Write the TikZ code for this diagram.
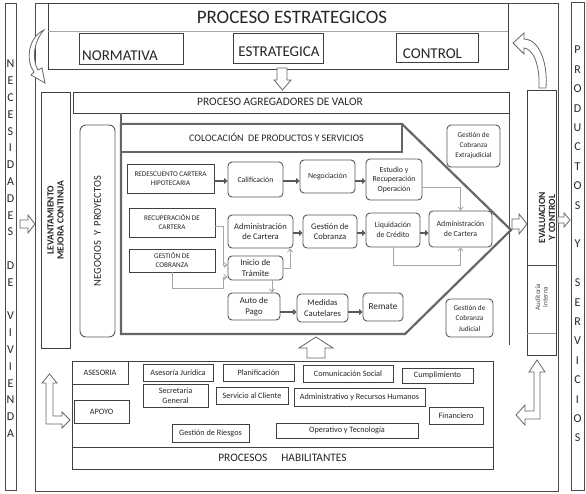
\documentclass[tikz,border=0pt]{standalone}
\usepackage{fontspec}
\setmainfont{Carlito}
\usetikzlibrary{arrows.meta}
\begin{document}
\begin{tikzpicture}[x=1pt,y=-1pt,
  frame/.style={draw=black!70, line width=0.9pt},
  sbox/.style={draw=black!75, line width=0.9pt, fill=white, inner sep=1pt, align=center, text=black!85},
  rbox/.style={sbox, rounded corners=4pt, draw=black!65},
  hbox/.style={sbox, font=\fontsize{8.2}{9}\selectfont},
  barrow/.style={draw=black!60, line width=0.8pt, fill=white, line join=miter},
  thickconn/.style={draw=black!65, line width=2.4pt, -{Triangle[length=3.5pt,width=6pt]}},
  lconn/.style={draw=black!35, line width=0.8pt, -{Straight Barb[length=3pt,width=5pt]}},
  lbl/.style={inner sep=0pt, text=black!85},
  fa/.style={font=\fontsize{7.8}{9.5}\selectfont},
  fb/.style={font=\fontsize{8.6}{10}\selectfont},
  fc/.style={font=\fontsize{7.2}{9}\selectfont},
]
\useasboundingbox (0,0) rectangle (586,493);
\fill[white] (0,0) rectangle (586,493);

% side bars
\draw[frame] (5,3) rectangle (16,490);
\draw[frame] (571,2) rectangle (584,490);
\node[lbl, align=center, font=\fontsize{12}{16.8}\selectfont] (nec) at (10.5,248.8)
  {N\\E\\C\\E\\S\\I\\D\\A\\D\\E\\S\\~\\D\\E\\~\\V\\I\\V\\I\\E\\N\\D\\A};
\node[lbl, align=center, font=\fontsize{12}{19.4}\selectfont] (prod) at (577.5,244)
  {P\\R\\O\\D\\U\\C\\T\\O\\S\\~\\Y\\~\\S\\E\\R\\V\\I\\C\\I\\O\\S};

% outer frame
\draw[frame] (35,3) rectangle (558,491);

% estrategicos
\node[sbox, minimum width=460pt, minimum height=66pt] (estr) at (278,36) {};
\draw[draw=black!35, line width=0.8pt] (48,31) -- (508,31);
\node[lbl, font=\fontsize{19}{20}\selectfont] (estrT) at (292,17) {PROCESO ESTRATEGICOS};
\node[sbox, minimum width=104pt, minimum height=31pt] (norm) at (131,48.5) {};
\node[lbl, font=\fontsize{15}{16}\selectfont, anchor=west] (normT) at (82,56) {NORMATIVA};
\node[sbox, minimum width=90pt, minimum height=30pt] (estg) at (278,48) {};
\node[lbl, font=\fontsize{15}{16}\selectfont] (estgT) at (279,52) {ESTRATEGICA};
\node[sbox, minimum width=82pt, minimum height=29pt] (ctrl) at (437,47.5) {};
\node[lbl, font=\fontsize{15}{16}\selectfont] (ctrlT) at (432.5,54) {CONTROL};

% curved arrows
\draw[barrow] (44,30) .. controls (27,38) and (26,62) .. (34,72) -- (31,75) -- (45,83) -- (42,68) -- (38,70) .. controls (32,60) and (33,42) .. (44,30) -- cycle;
\draw[barrow] (539,88) -- (546,88) .. controls (548,60) and (538,39) .. (524,39) -- (524,33) -- (513,43) -- (524,54) -- (524,48) .. controls (533,49) and (540,64) .. (539,88) -- cycle;

% down arrow
\draw[barrow] (277,68) -- (287,68) -- (287,80) -- (291,80) -- (282.5,90) -- (274,80) -- (277,80) -- cycle;

% agregadores
\node[sbox, minimum width=436pt, minimum height=21pt] (agr) at (291,102.5) {};
\node[lbl, font=\fontsize{11.4}{12}\selectfont] (agrT) at (280,102) {PROCESO AGREGADORES DE VALOR};
\node[sbox, rotate=90, minimum width=256pt, minimum height=29pt, font=\bfseries\fontsize{9.5}{10}\selectfont] (lev) at (55.5,220) {LEVANTAMIENTO\\MEJORA CONTINUA};
\node[rbox, rotate=90, rounded corners=6pt, minimum width=212pt, minimum height=35pt, font=\fontsize{10.5}{12}\selectfont] (negp) at (97.5,231) {NEGOCIOS\ \ Y\ \ PROYECTOS};

\draw[black!60, line width=1.5pt] (121,113) -- (121,124);
\draw[frame] (509.5,113) -- (509.5,345);

% pentagon
\draw[black!60, line width=2.2pt, line join=miter] (121,124) -- (402,124) -- (511,230) -- (405,334) -- (121,334) -- cycle;
\node[sbox, draw=black!60, line width=1.5pt, minimum width=281pt, minimum height=28pt] (col) at (261.5,138) {};
\node[lbl, font=\fontsize{10}{11}\selectfont] (colT) at (276.5,137) {COLOCACIÓN\ \ DE PRODUCTOS Y SERVICIOS};

% evaluacion
\node[sbox, minimum width=29pt, minimum height=265pt] (eval) at (541.5,222.5) {};
\draw[black!70, line width=0.7pt] (527,265) -- (556,265);
\draw[black!40, line width=0.6pt] (527,333) -- (556,333);
\node[lbl, rotate=90, align=center, font=\bfseries\fontsize{9.5}{10}\selectfont] (evalT) at (547,217.5) {EVALUACION\\Y CONTROL};
\node[lbl, rotate=90, align=center, font=\fontsize{7}{7.5}\selectfont, text=black!70] (audT) at (541.5,297) {Auditoria\\Interna};

% inner boxes
\node[sbox, fc, minimum width=87pt, minimum height=29pt] (redes) at (170.5,178.5) {REDESCUENTO CARTERA\\HIPOTECARIA};
\node[rbox, fa, minimum width=55pt, minimum height=35pt] (cal) at (255.5,179.5) {Calificación};
\node[rbox, fa, minimum width=55pt, minimum height=33pt] (nego) at (327.5,176.5) {Negociación};
\node[rbox, fa, minimum width=56pt, minimum height=41pt] (est) at (394,179.5) {Estudio y\\Recuperación\\Operación};
\node[sbox, fc, minimum width=86pt, minimum height=29pt] (recup) at (172,222.5) {RECUPERACIÓN DE\\CARTERA};
\node[rbox, fb, minimum width=65pt, minimum height=33pt] (adma) at (260.5,231.5) {Administración\\de Cartera};
\node[rbox, fb, minimum width=54pt, minimum height=33pt] (gest) at (330,231.5) {Gestión de\\Cobranza};
\node[rbox, fa, minimum width=54pt, minimum height=34pt] (liq) at (393,230) {Liquidación\\de Crédito};
\node[rbox, fa, minimum width=63pt, minimum height=36pt] (admb) at (460.5,229) {Administración\\de Cartera};
\node[sbox, fc, minimum width=86pt, minimum height=23pt] (gestc) at (172,260.5) {GESTIÓN DE\\COBRANZA};
\node[rbox, font=\fontsize{8.8}{10.5}\selectfont, minimum width=55pt, minimum height=24pt] (ini) at (255.5,268) {Inicio de\\Trámite};
\node[rbox, font=\fontsize{8.8}{10.5}\selectfont, minimum width=52pt, minimum height=27pt] (auto) at (254,306.5) {Auto de\\Pago};
\node[rbox, font=\fontsize{8.6}{10.5}\selectfont, minimum width=51pt, minimum height=28pt] (med) at (322.5,308) {Medidas\\Cautelares};
\node[rbox, font=\fontsize{9.3}{10.5}\selectfont, minimum width=40pt, minimum height=28pt] (rem) at (383,307) {Remate};
\node[rbox, font=\fontsize{7.3}{10}\selectfont, minimum width=53pt, minimum height=42pt] (extra) at (473.5,146) {Gestión de\\Cobranza\\Extrajudicial};
\node[rbox, font=\fontsize{7.3}{10.5}\selectfont, minimum width=47pt, minimum height=38pt] (jud) at (469.5,318) {Gestión de\\Cobranza\\Judicial};

% thick connectors
\coordinate (r1y) at (0,181);
\coordinate (r2y) at (0,233);
\coordinate (r4y) at (0,312);
\draw[thickconn] (redes.east |- r1y) -- (cal.west |- r1y);
\draw[thickconn] (cal.east |- r1y) -- (nego.west |- r1y);
\draw[thickconn] (nego.east |- r1y) -- (est.west |- r1y);
\draw[thickconn] (adma.east |- r2y) -- (gest.west |- r2y);
\draw[thickconn] (gest.east |- r2y) -- (liq.west |- r2y);
\draw[thickconn] (liq.east |- r2y) -- (admb.west |- r2y);
\draw[thickconn] (auto.east |- r4y) -- (med.west |- r4y);
\draw[thickconn] (med.east |- r4y) -- (rem.west |- r4y);

% light connectors
\coordinate (c1) at (461,187);
\draw[lconn] (est.east |- c1) -| (admb.north);
\coordinate (c5) at (393,265);
\draw[lconn] (liq.south) -- (c5) -| (admb.south);
\coordinate (c0) at (223,226);
\coordinate (c0b) at (223,265);
\draw[lconn] (recup.east |- c0) -- (c0) -- (c0b) -- (ini.west |- c0b);
\coordinate (c2) at (223,288);
\coordinate (c3) at (223,277);
\draw[lconn] (gestc.south) |- (c2) -- (c3) -- (ini.west |- c3);
\coordinate (c4) at (290,268);
\draw[lconn] (ini.east) -- (c4) -- (adma.south -| c4);
\coordinate (c6) at (272,280);
\draw[lconn] (ini.south -| c6) -- (auto.north -| c6);

% block arrows
\draw[barrow] (20,220) -- (28,220) -- (28,215) -- (35,224) -- (28,233) -- (28,228) -- (20,228) -- cycle;
\draw[barrow] (512,219) -- (519,219) -- (519,214) -- (527,224) -- (519,234) -- (519,229) -- (512,229) -- cycle;
\draw[barrow] (558,217) -- (564,217) -- (564,213) -- (570,220) -- (564,227) -- (564,223) -- (558,223) -- cycle;
\draw[barrow] (307,358) -- (307,348) -- (299,348) -- (316,337) -- (333,348) -- (325,348) -- (325,358) -- cycle;
\draw[barrow] (46,383) -- (42,383) -- (49.5,374) -- (57,383) -- (53,383) -- (53,416) -- (62,416) -- (62,412) -- (70,420) -- (62,428) -- (62,424) -- (46,424) -- cycle;
\draw[barrow] (534,372) -- (529,372) -- (537,360) -- (545,372) -- (540,372) -- (540,419) -- (525,419) -- (525,425) -- (516,415) -- (525,405) -- (525,411) -- (534,411) -- cycle;

% habilitantes
\node[sbox, minimum width=421pt, minimum height=108pt] (hab) at (282.5,415) {};
\node[sbox, minimum width=421pt, minimum height=22pt, font=\fontsize{11.4}{12}\selectfont] (habT) at (282.5,458) {PROCESOS\hspace{14pt}HABILITANTES};
\node[hbox, minimum width=56pt, minimum height=23pt] (ases) at (100,372.5) {ASESORIA};
\node[hbox, minimum width=55pt, minimum height=23pt] (apoyo) at (101.5,411.5) {APOYO};
\node[hbox, minimum width=70pt, minimum height=17pt] (asj) at (178,372.5) {Asesoría Jurídica};
\node[hbox, minimum width=71pt, minimum height=17pt] (plan) at (258.5,372.5) {Planificación};
\node[hbox, minimum width=65pt, minimum height=23pt, font=\fontsize{8.2}{10}\selectfont] (secr) at (175.5,395.5) {Secretaria\\General};
\node[hbox, minimum width=72pt, minimum height=17pt] (serv) at (252,395.5) {Servicio al Cliente};
\node[hbox, minimum width=77pt, minimum height=18pt] (ries) at (210.5,433) {Gestión de Riesgos};
\node[hbox, minimum width=90pt, minimum height=17pt] (coms) at (348,373.5) {Comunicación Social};
\node[hbox, minimum width=71pt, minimum height=15pt] (cump) at (437.5,375.5) {Cumplimiento};
\node[hbox, minimum width=131pt, minimum height=18pt] (rrhh) at (359.5,397) {Administrativo y Recursos Humanos};
\node[hbox, minimum width=54pt, minimum height=17pt] (fin) at (456,415.5) {Financiero};
\node[hbox, minimum width=142pt, minimum height=15pt] (oper) at (347,430.5) {Operativo y Tecnología};
\end{tikzpicture}
\end{document}
